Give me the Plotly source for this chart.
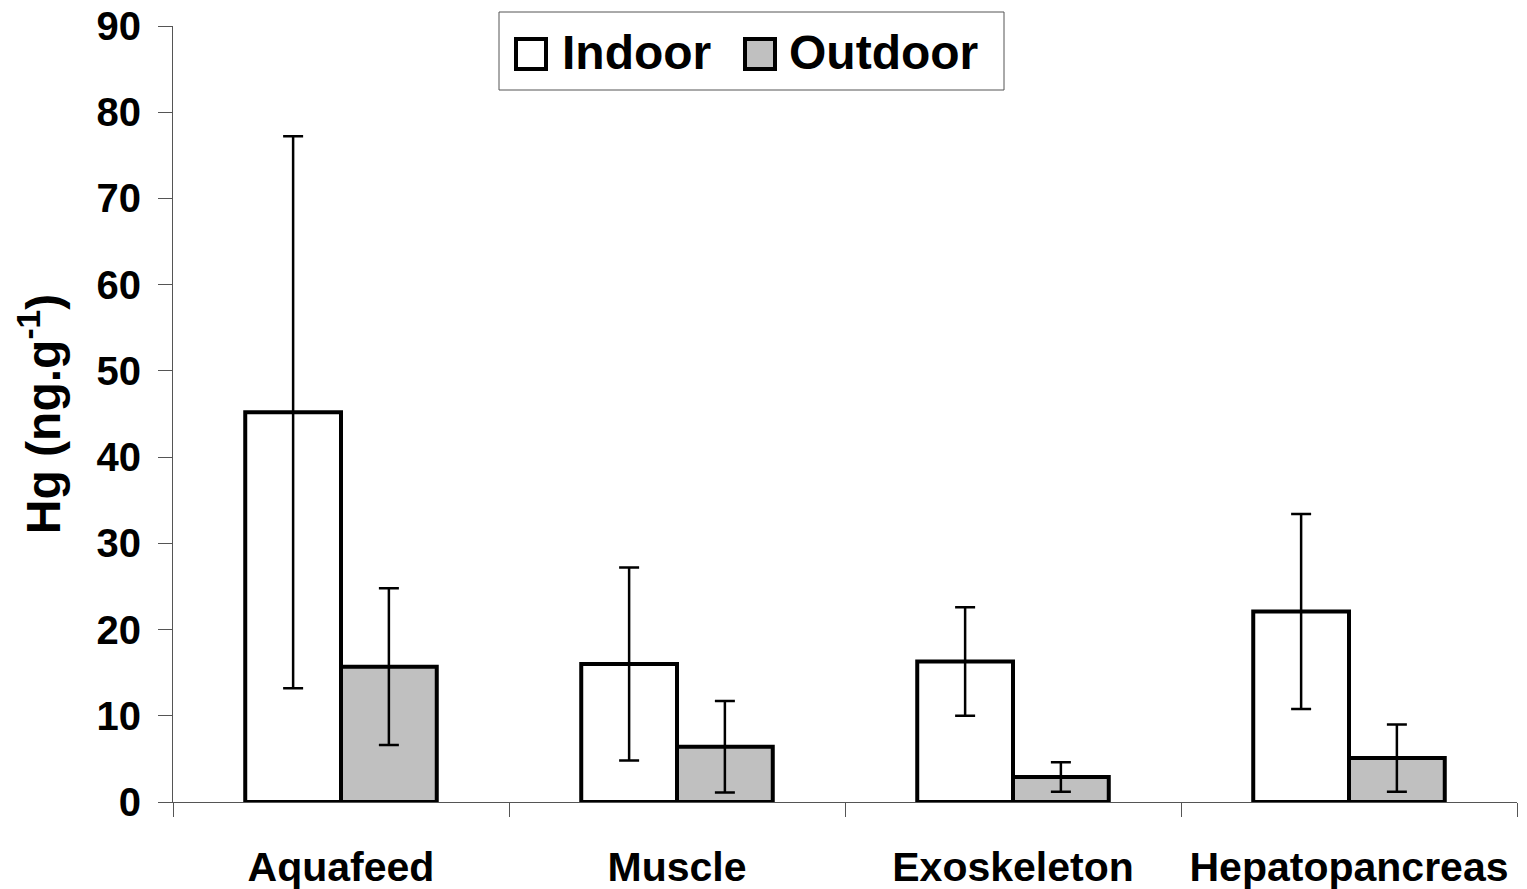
import plotly.graph_objects as go

categories = ["Aquafeed", "Muscle", "Exoskeleton", "Hepatopancreas"]
indoor = [45.2, 16.0, 16.3, 22.1]
indoor_err = [32.0, 11.2, 6.3, 11.3]
outdoor = [15.7, 6.4, 2.9, 5.1]
outdoor_err = [9.1, 5.3, 1.7, 3.9]
series_names = ["Indoor", "Outdoor"]
y_ticks = [0, 10, 20, 30, 40, 50, 60, 70, 80, 90]

W, H = 1527, 889
ML, MR, MT, MB = 173, 10, 26, 87
PW = W - ML - MR
PH = H - MT - MB

def px_x(p):
    return (p - ML) / PW

def px_y(p):
    return (H - MB - p) / PH

FONT = "Liberation Sans"
fill_in = "#FFFFFF"
fill_out = "#C0C0C0"

fig = go.Figure()
fig.add_trace(go.Bar(
    x=categories, y=indoor, name=series_names[0],
    marker=dict(color=fill_in, line=dict(color="black", width=4)),
    error_y=dict(type="data", array=indoor_err, visible=True, color="black", thickness=2.5, width=10),
    showlegend=False,
))
fig.add_trace(go.Bar(
    x=categories, y=outdoor, name=series_names[1],
    marker=dict(color=fill_out, line=dict(color="black", width=4)),
    error_y=dict(type="data", array=outdoor_err, visible=True, color="black", thickness=2.5, width=10),
    showlegend=False,
))

# manual legend (box, swatches, labels)
shapes = [
    dict(type="rect", xref="paper", yref="paper", x0=px_x(499), x1=px_x(1004), y0=px_y(90), y1=px_y(12),
         line=dict(color="#555", width=1), fillcolor="white", layer="below"),
    dict(type="rect", xref="paper", yref="paper", x0=px_x(516), x1=px_x(546), y0=px_y(69), y1=px_y(39),
         line=dict(color="black", width=4), fillcolor=fill_in),
    dict(type="rect", xref="paper", yref="paper", x0=px_x(745), x1=px_x(775), y0=px_y(69), y1=px_y(39),
         line=dict(color="black", width=4), fillcolor=fill_out),
]
annotations = [
    dict(text=series_names[0], xref="paper", yref="paper", x=px_x(560), y=px_y(53), xanchor="left", yanchor="middle",
         showarrow=False, font=dict(family=FONT, size=48, color="black", weight="bold")),
    dict(text=series_names[1], xref="paper", yref="paper", x=px_x(787), y=px_y(53), xanchor="left", yanchor="middle",
         showarrow=False, font=dict(family=FONT, size=48, color="black", weight="bold")),
]

fig.update_layout(
    width=W, height=H,
    margin=dict(l=ML, r=MR, t=MT, b=MB, pad=0, autoexpand=False),
    paper_bgcolor="white", plot_bgcolor="white",
    barmode="group", bargap=0.43, bargroupgap=0,
    font=dict(family=FONT, color="black"),
    shapes=shapes, annotations=annotations,
    showlegend=False,
)
fig.update_xaxes(
    type="category", showline=True, linecolor="#555", linewidth=1, automargin=False,
    ticks="outside", tickson="boundaries", ticklen=14, tickcolor="#555", tickwidth=1,
    tickfont=dict(family=FONT, size=41, color="black", weight="bold"),
    ticklabelstandoff=29, showgrid=False, zeroline=False,
)
fig.update_yaxes(
    range=[0, 90], tickvals=y_ticks, showline=True, linecolor="#555", linewidth=1, automargin=False,
    ticks="outside", ticklen=14, tickcolor="#555", tickwidth=1,
    tickfont=dict(family=FONT, size=40, color="black", weight="bold"),
    ticklabelstandoff=9, showgrid=False, zeroline=False,
    title=dict(text="Hg (ng.g<sup>-1</sup>)", font=dict(family=FONT, size=48, color="black", weight="bold"), standoff=20),
)

fig.write_html("out.html")
